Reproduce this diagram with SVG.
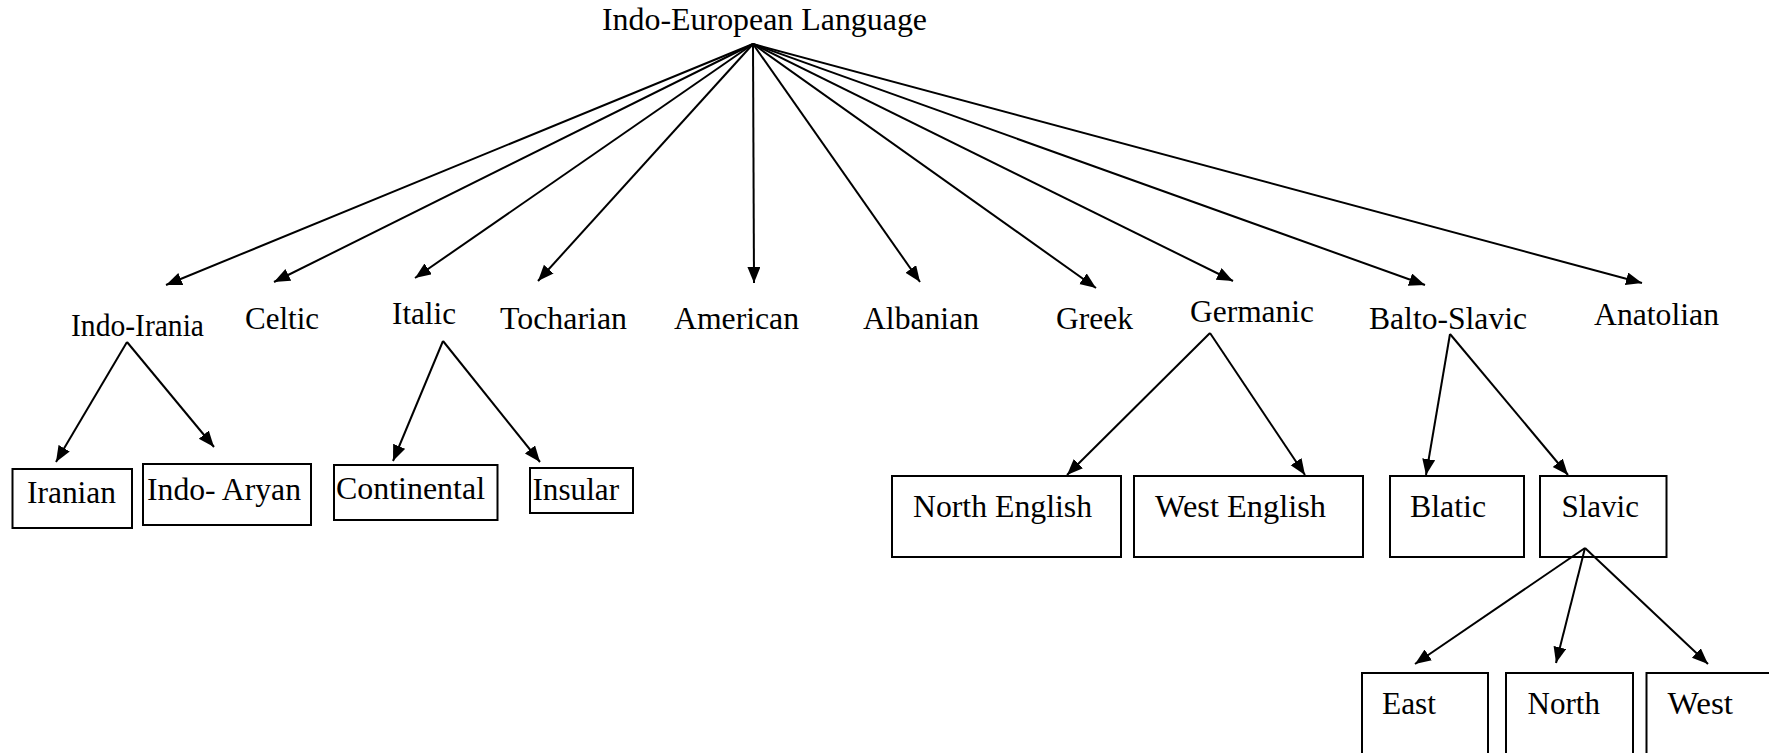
<svg xmlns="http://www.w3.org/2000/svg" width="1769" height="753" viewBox="0 0 1769 753">
<style>
text{font-family:"Liberation Serif","Times New Roman",serif;font-size:32px;fill:#000}
.box{fill:none;stroke:#000;stroke-width:2}
.c line{stroke:#000;stroke-width:2;marker-end:url(#ah)}
</style>
<defs>
<marker id="ah" markerUnits="userSpaceOnUse" markerWidth="18" markerHeight="14" refX="16" refY="6.5" orient="auto">
<path d="M0,0 L16,6.5 L0,13 z" fill="#000"/>
</marker>
</defs>
<rect width="1769" height="753" fill="#fff"/>
<g id="connectors" class="c">
<line x1="753" y1="44" x2="166" y2="285"/>
<line x1="753" y1="44" x2="274" y2="282"/>
<line x1="753" y1="44" x2="415" y2="278"/>
<line x1="753" y1="44" x2="538" y2="281"/>
<line x1="753" y1="44" x2="754" y2="283"/>
<line x1="753" y1="44" x2="920" y2="282"/>
<line x1="753" y1="44" x2="1096" y2="288"/>
<line x1="753" y1="44" x2="1233" y2="281"/>
<line x1="753" y1="44" x2="1425" y2="285"/>
<line x1="753" y1="44" x2="1642" y2="283"/>
<line x1="127" y1="342" x2="56" y2="462"/>
<line x1="127" y1="342" x2="214" y2="447"/>
<line x1="443" y1="341" x2="393" y2="461"/>
<line x1="443" y1="341" x2="540" y2="462"/>
<line x1="1210" y1="333" x2="1067" y2="475"/>
<line x1="1210" y1="333" x2="1305" y2="475"/>
<line x1="1450" y1="334" x2="1426" y2="475"/>
<line x1="1450" y1="334" x2="1568" y2="475"/>
<line x1="1585" y1="548" x2="1415" y2="664"/>
<line x1="1585" y1="548" x2="1556" y2="663"/>
<line x1="1585" y1="548" x2="1708" y2="664"/>
</g>
<g id="n-root"><text x="602" y="30" textLength="325" lengthAdjust="spacingAndGlyphs">Indo-European Language</text></g>
<g id="n-indoirania"><text x="71" y="336" textLength="133" lengthAdjust="spacingAndGlyphs">Indo-Irania</text></g>
<g id="n-celtic"><text x="245" y="329" textLength="74" lengthAdjust="spacingAndGlyphs">Celtic</text></g>
<g id="n-italic"><text x="392" y="324" textLength="64" lengthAdjust="spacingAndGlyphs">Italic</text></g>
<g id="n-tocharian"><text x="500" y="329" textLength="127" lengthAdjust="spacingAndGlyphs">Tocharian</text></g>
<g id="n-american"><text x="674" y="329" textLength="125" lengthAdjust="spacingAndGlyphs">American</text></g>
<g id="n-albanian"><text x="863" y="329" textLength="116" lengthAdjust="spacingAndGlyphs">Albanian</text></g>
<g id="n-greek"><text x="1056" y="329" textLength="77" lengthAdjust="spacingAndGlyphs">Greek</text></g>
<g id="n-germanic"><text x="1190" y="322" textLength="124" lengthAdjust="spacingAndGlyphs">Germanic</text></g>
<g id="n-baltoslavic"><text x="1369" y="329" textLength="158" lengthAdjust="spacingAndGlyphs">Balto-Slavic</text></g>
<g id="n-anatolian"><text x="1594" y="325" textLength="125" lengthAdjust="spacingAndGlyphs">Anatolian</text></g>
<g id="n-iranian"><rect class="box" x="12.5" y="469" width="119.5" height="59"/><text x="27" y="503" textLength="89" lengthAdjust="spacingAndGlyphs">Iranian</text></g>
<g id="n-indoaryan"><rect class="box" x="143" y="464" width="168" height="61"/><text x="147" y="500" textLength="154" lengthAdjust="spacingAndGlyphs">Indo- Aryan</text></g>
<g id="n-continental"><rect class="box" x="334" y="465" width="163.5" height="55"/><text x="336" y="499" textLength="149" lengthAdjust="spacingAndGlyphs">Continental</text></g>
<g id="n-insular"><rect class="box" x="530" y="468" width="103" height="45"/><text x="532.5" y="500" textLength="86.5" lengthAdjust="spacingAndGlyphs">Insular</text></g>
<g id="n-northenglish"><rect class="box" x="892" y="476" width="229" height="81"/><text x="913" y="517" textLength="179" lengthAdjust="spacingAndGlyphs">North English</text></g>
<g id="n-westenglish"><rect class="box" x="1134" y="476" width="229" height="81"/><text x="1155" y="517" textLength="171" lengthAdjust="spacingAndGlyphs">West English</text></g>
<g id="n-blatic"><rect class="box" x="1390" y="476" width="134" height="81"/><text x="1410" y="517" textLength="76" lengthAdjust="spacingAndGlyphs">Blatic</text></g>
<g id="n-slavic"><rect class="box" x="1540" y="476" width="126.5" height="81"/><text x="1561.5" y="517" textLength="77.5" lengthAdjust="spacingAndGlyphs">Slavic</text></g>
<g id="n-east"><rect class="box" x="1362" y="673" width="126" height="100"/><text x="1382" y="714" textLength="54" lengthAdjust="spacingAndGlyphs">East</text></g>
<g id="n-north"><rect class="box" x="1506" y="673" width="127" height="100"/><text x="1527.5" y="714" textLength="72.5" lengthAdjust="spacingAndGlyphs">North</text></g>
<g id="n-west"><rect class="box" x="1646.5" y="673" width="140" height="100"/><text x="1667.5" y="714" textLength="65.5" lengthAdjust="spacingAndGlyphs">West</text></g>
</svg>
